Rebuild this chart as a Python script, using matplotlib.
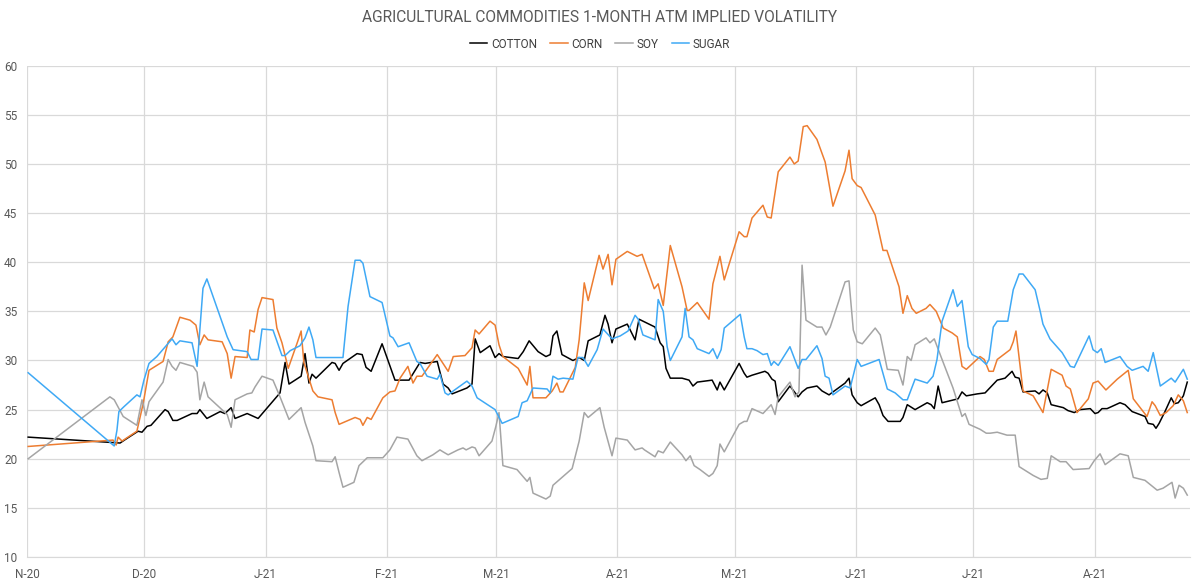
import numpy as np
import pandas as pd
import matplotlib
matplotlib.use("Agg")
import matplotlib.pyplot as plt
import matplotlib.dates as mdates
from matplotlib.ticker import FuncFormatter

plt.rcParams['font.family'] = ['Liberation Sans Narrow', 'Roboto', 'DejaVu Sans']

START = pd.Timestamp('2020-11-01')

# x values: days since 2020-11-01
cotton_days = [0.3, 23.8, 25.3, 28.4, 29.4, 30.7, 31.7, 35.3, 36.1, 37.3, 38.4, 42.2, 43.5, 44.2, 46.0, 49.4, 50.6,
               52.2, 53.2, 56.3, 59.1, 64.7, 66.0, 67.0, 70.1, 71.1, 72.1, 72.9, 73.9, 78.0, 78.8, 79.8, 80.8, 84.4,
               85.7, 86.7, 88.0, 90.8, 94.1, 97.7, 100.5, 101.8, 104.9, 106.4, 107.7, 108.7, 112.5, 113.8, 114.6,
               115.9, 118.4, 119.7, 120.7, 121.7, 125.6, 126.9, 128.4, 130.7, 132.7, 133.8, 134.5, 135.5, 136.8,
               139.6, 141.2, 142.5, 143.5, 146.5, 147.8, 148.6, 149.6, 150.6, 153.5, 155.5, 156.5, 160.6, 161.9,
               162.7, 163.4, 164.5, 167.5, 169.3, 170.3, 171.4, 175.2, 176.5, 177.2, 178.3, 182.1, 183.4, 184.1,
               185.4, 188.7, 189.5, 190.5, 191.3, 192.1, 195.1, 197.2, 198.2, 199.5, 202.0, 203.3, 205.1, 206.1,
               209.2, 210.2, 211.0, 212.3, 213.3, 216.9, 217.9, 218.9, 220.2, 223.3, 224.0, 225.1, 227.1, 230.2,
               231.2, 232.0, 233.0, 234.0, 238.1, 239.1, 240.2, 243.0, 245.0, 248.1, 250.1, 251.9, 252.7, 253.7,
               254.7, 257.8, 258.8, 259.8, 260.9, 261.9, 265.0, 266.2, 267.8, 269.3, 271.9, 273.1, 273.9, 274.9,
               276.2, 279.5, 280.8, 282.6, 285.9, 286.7, 288.0, 288.7, 289.5, 291.0, 292.6, 293.4, 294.4, 295.7,
               296.7]
cotton_vals = [22.2, 21.6, 22.0, 22.8, 22.7, 23.3, 23.4, 25.0, 24.8, 23.9, 23.9, 24.6, 24.6, 25.0, 24.1, 24.8, 24.6,
               25.2, 24.1, 24.6, 24.1, 26.7, 29.8, 27.6, 28.4, 30.7, 27.7, 28.6, 28.2, 29.8, 29.7, 29.0, 29.7, 30.7,
               30.6, 29.3, 28.9, 31.7, 28.0, 28.0, 29.8, 29.7, 29.9, 27.6, 27.2, 26.6, 27.2, 27.6, 32.2,
               30.8, 31.5, 30.3, 30.7, 30.4, 30.2, 30.9, 32.0, 30.9, 30.4, 30.6, 32.5, 33.0, 30.6,
               30.0, 30.3, 30.0, 32.0, 32.6, 34.6, 33.7, 31.8, 33.2, 33.7, 32.1, 34.2, 33.4, 31.8,
               31.4, 29.2, 28.2, 28.2, 28.0, 27.4, 27.8, 28.0, 27.0, 27.8, 27.0, 29.7, 28.7, 28.3,
               28.5, 28.9, 28.7, 28.1, 27.9, 25.8, 27.4, 26.3, 26.8, 27.2, 27.4, 26.9, 26.5, 26.8,
               27.7, 28.2, 26.5, 25.7, 25.4, 26.2, 25.5, 24.4, 23.8, 23.8, 24.2, 25.5, 25.0, 25.7,
               25.5, 25.1, 27.4, 25.7, 26.1, 26.8, 26.4, 26.6, 26.7, 28.0, 28.2, 28.9, 28.3, 28.2,
               26.8, 26.9, 26.6, 27.0, 26.7, 25.5, 25.2, 24.9, 24.7, 25.0, 25.1, 24.6, 24.7, 25.1,
               25.1, 25.7, 25.5, 24.8, 24.3, 23.6, 23.5, 23.1, 23.6, 24.8, 26.2, 25.6, 25.7, 26.4,
               27.8]

corn_days = [0.3, 22.0, 22.8, 23.3, 24.3, 28.1, 29.7, 31.2, 34.8, 36.1, 37.3, 39.1, 41.7, 43.2, 44.2, 45.3, 46.3,
             49.9, 51.2, 52.2, 53.2, 56.3, 57.0, 58.1, 59.1, 60.1, 62.9, 63.9, 65.2, 66.8, 69.1, 70.1, 70.8, 71.9,
             73.1, 74.4, 78.0, 78.8, 79.8, 83.9, 85.2, 85.9, 87.0, 88.0, 91.0, 92.8, 94.1, 95.4, 97.4, 98.7, 99.7,
             101.0, 104.9, 107.7, 109.0, 112.0, 113.8, 114.6, 115.6, 118.4, 119.7, 120.7, 121.7, 125.6, 127.9,
             128.6, 129.4, 132.7, 134.3, 135.5, 136.3, 137.1, 140.2, 141.2, 142.5, 143.5, 146.3, 147.3, 148.6,
             149.6, 150.6, 153.5, 156.0, 157.3, 160.4, 161.4, 162.7, 164.5, 167.5, 168.8, 169.3, 171.4, 174.4,
             175.4, 177.2, 178.3, 182.1, 183.4, 184.1, 185.4, 188.2, 189.3, 190.3, 192.1, 195.1, 196.2, 197.2,
             198.5, 199.5, 202.0, 204.1, 206.1, 209.2, 210.2, 211.0, 212.3, 213.3, 216.9, 218.9, 219.9, 223.0,
             224.0, 225.1, 226.3, 227.4, 229.9, 230.9, 232.5, 234.3, 236.6, 237.9, 239.1, 240.2, 243.7, 244.8,
             246.0, 247.1, 248.1, 251.4, 252.2, 252.9, 254.7, 257.3, 259.8, 261.9, 264.7, 265.7, 266.8, 268.5,
             271.4, 272.6, 273.9, 275.9, 278.8, 281.6, 282.9, 286.4, 287.7, 288.5, 289.8, 291.3, 293.1, 294.4,
             295.7, 296.7]
corn_vals = [21.25, 21.9, 21.4, 22.2, 21.8, 22.8, 25.6, 29.0, 29.9, 31.9, 32.4, 34.4, 34.1, 33.6, 31.6, 32.6, 32.1,
             31.9, 30.7, 28.2, 30.4, 30.3, 33.1, 32.9, 35.2, 36.4, 36.2, 33.3, 31.8, 29.2, 31.8, 33.0, 29.8, 28.4,
             26.9, 26.3, 26.0, 24.7, 23.5, 24.2, 24.0, 23.4, 24.2, 24.0, 26.2, 26.8, 26.9, 28.2, 29.4, 27.7, 28.4,
             28.4, 30.6, 28.9, 30.4, 30.5, 31.3, 33.1, 32.7, 34.0, 33.6, 31.6, 30.4, 29.2, 27.5,
             29.4, 26.2, 26.2, 26.9, 27.7, 26.8, 26.8, 29.3, 32.1, 37.9, 36.1, 40.7, 39.3, 40.8,
             37.7, 40.3, 41.1, 40.6, 40.8, 37.3, 37.8, 35.6, 41.7, 37.5, 35.1, 35.1, 35.9, 34.2,
             37.8, 40.6, 38.2, 43.1, 42.6, 42.6, 44.5, 45.8, 44.6, 44.5, 49.2, 50.7, 50.0, 50.3,
             53.8, 53.9, 52.5, 50.2, 45.7, 49.3, 51.4, 48.5, 47.8, 47.6, 44.8, 41.2, 41.2, 37.5,
             34.8, 36.6, 35.3, 34.8, 35.3, 35.7, 35.0, 33.3, 32.8, 32.4, 29.4, 29.1, 30.4, 30.1,
             28.9, 28.9, 30.1, 31.1, 31.9, 33.0, 26.9, 26.4, 24.7, 29.1, 28.5, 27.4, 27.1, 24.7,
             26.1, 27.7, 27.9, 27.0, 28.1, 29.0, 26.1, 24.3, 25.8, 25.4, 24.4, 24.7, 25.4, 26.5,
             25.9, 24.7]

soy_days = [0.3, 21.2, 22.3, 24.6, 28.1, 29.4, 30.4, 31.2, 34.8, 36.1, 37.1, 38.1, 39.1, 42.5, 43.5, 44.2, 45.3,
            46.3, 51.2, 52.2, 53.2, 56.3, 57.5, 58.3, 60.1, 62.9, 64.7, 67.0, 70.1, 71.1, 73.1, 73.9, 78.0, 78.8,
            79.8, 80.8, 83.6, 84.9, 87.0, 91.0, 92.8, 94.6, 97.4, 99.7, 101.0, 103.8, 105.6, 106.4, 107.7, 110.2,
            111.5, 112.3, 113.8, 114.6, 115.6, 118.9, 119.9, 120.7, 121.7, 125.3, 127.9, 128.6, 129.4, 132.7,
            133.8, 134.5, 139.4, 141.2, 142.5, 143.5, 146.5, 147.6, 149.6, 150.6, 153.5, 155.5, 157.3, 157.9,
            160.6, 161.4, 162.7, 164.5, 167.5, 168.5, 169.6, 170.6, 172.1, 174.4, 175.4, 176.5, 177.2, 178.3,
            182.1, 183.4, 184.1, 185.4, 188.2, 190.3, 191.3, 192.1, 195.1, 196.4, 197.4, 198.2, 199.2, 202.0,
            203.3, 204.3, 205.4, 209.2, 210.2, 211.3, 212.3, 213.6, 216.9, 218.2, 220.0, 222.8, 224.0, 225.1,
            226.1, 227.1, 229.9, 230.9, 232.0, 234.0, 236.8, 239.1, 239.9, 240.9, 243.7, 245.3, 246.3, 248.1,
            250.6, 252.7, 253.7, 257.3, 259.3, 260.9, 261.9, 264.2, 265.7, 267.5, 271.6, 272.9, 274.4, 275.7,
            279.5, 281.6, 282.9, 285.9, 289.0, 290.5, 292.8, 293.6, 294.6, 295.7, 296.7]
soy_vals = [20.0, 26.3, 26.0, 24.3, 23.4, 26.0, 24.4, 25.8, 27.8, 30.1, 29.4, 29.0, 29.8, 29.4, 28.8, 26.0, 27.8,
            26.3, 24.5, 23.2, 26.0, 26.6, 26.7, 27.3, 28.4, 28.0, 26.3, 24.0, 25.2, 23.7, 21.3, 19.8, 19.7, 20.2,
            18.6, 17.1, 17.6, 19.3, 20.1, 20.1, 20.9, 22.2, 22.0, 20.3, 19.8, 20.4, 20.9, 20.7, 20.4, 20.9,
            21.1, 20.9, 21.2, 21.1, 20.3, 21.8, 23.3, 24.7, 19.3, 18.9, 17.7, 18.1, 16.5, 15.9,
            16.2, 17.3, 19.0, 21.8, 24.7, 24.2, 25.2, 23.2, 20.3, 22.1, 21.9, 20.9, 21.1, 20.9,
            20.2, 20.8, 20.6, 21.7, 20.4, 19.8, 20.3, 19.3, 18.9, 18.2, 18.5, 19.3, 21.5, 20.7,
            23.5, 23.8, 23.8, 25.1, 24.6, 25.5, 24.5, 26.3, 27.8, 26.3, 26.8, 39.7, 34.1, 33.4,
            33.4, 32.6, 33.4, 38.0, 38.1, 33.1, 31.9, 31.7, 33.3, 32.6, 29.1, 29.0, 27.5, 30.4,
            30.0, 31.6, 32.3, 31.8, 32.2, 30.1, 27.2, 24.3, 24.6, 23.5, 23.0, 22.6, 22.6, 22.7,
            22.4, 22.4, 19.2, 18.3, 17.9, 18.0, 20.3, 19.7, 19.7, 18.9, 19.0, 19.8, 20.5, 19.4,
            20.5, 20.3, 18.1, 17.8, 16.8, 17.0, 17.6, 16.0, 17.3, 17.0, 16.3]

sugar_days = [0.3, 22.3, 23.0, 23.5, 24.8, 28.1, 28.9, 29.9, 31.2, 33.2, 37.1, 38.1, 39.1, 42.2, 43.5, 45.0, 46.0,
              51.2, 52.7, 56.3, 57.3, 59.1, 60.1, 62.9, 65.2, 66.0, 67.3, 69.8, 70.3, 71.1, 72.1, 73.1, 73.9, 80.8,
              82.1, 83.9, 85.2, 85.9, 87.7, 90.8, 92.8, 93.6, 94.9, 97.7, 99.7, 100.5, 102.3, 104.9, 105.6, 106.9,
              107.7, 109.0, 112.5, 113.8, 115.1, 119.7, 121.5, 125.6, 126.6, 127.9, 129.4, 133.0, 133.8, 134.5,
              135.8, 137.1, 139.6, 140.9, 142.2, 143.5, 145.8, 147.3, 149.6, 151.7, 153.7, 155.5, 156.3, 157.5,
              160.6, 161.4, 162.7, 163.7, 164.5, 167.5, 168.3, 169.3, 170.3, 171.4, 174.4, 175.4, 176.5, 177.5,
              178.3, 182.4, 183.4, 184.1, 185.4, 186.7, 188.2, 189.3, 190.3, 191.0, 192.1, 195.1, 197.2, 198.2,
              199.2, 202.0, 203.3, 204.1, 205.1, 206.1, 209.2, 210.5, 212.3, 213.3, 217.9, 220.0, 222.0, 224.0,
              225.1, 227.1, 230.2, 231.7, 232.7, 234.0, 236.8, 237.9, 239.1, 240.7, 241.7, 243.7, 245.3, 246.0,
              247.1, 248.1, 250.8, 252.2, 253.7, 254.7, 257.8, 259.1, 259.8, 261.6, 264.7, 266.8, 267.8, 271.6,
              272.6, 273.7, 274.7, 275.7, 279.5, 281.3, 282.6, 285.4, 286.7, 288.0, 289.8, 292.6, 293.6, 295.7,
              296.7]
sugar_vals = [28.75, 21.3, 22.9, 24.8, 25.3, 26.5, 26.3, 28.0, 29.7, 30.4, 32.2, 31.6, 32.0, 31.8, 29.4, 37.35, 38.3,
              32.4, 31.1, 30.9, 30.1, 30.1, 33.2, 33.1, 30.5, 30.5, 31.0, 31.5, 31.8, 32.3, 33.4, 32.1, 30.3, 30.3,
              35.5, 40.2, 40.2, 39.9, 36.5, 35.9, 32.5, 32.3, 31.4, 31.8, 29.9, 29.7, 28.4, 28.1, 28.6, 26.7,
              26.5, 26.9, 27.9, 27.4, 26.2, 25.0, 23.6, 24.3, 25.7, 25.9, 27.2, 27.1, 26.7, 28.4,
              28.1, 28.2, 28.1, 30.3, 30.3, 29.4, 31.1, 33.2, 32.2, 32.5, 33.0, 34.6, 34.2, 32.6,
              32.1, 36.2, 35.0, 31.4, 30.0, 32.4, 35.3, 32.4, 32.1, 31.2, 30.7, 31.2, 30.2, 31.1,
              33.3, 34.7, 32.4, 31.2, 31.2, 31.0, 30.6, 30.7, 29.5, 29.9, 29.5, 31.4, 29.2, 30.1,
              30.1, 31.5, 30.2, 28.4, 28.2, 26.5, 27.4, 27.2, 30.1, 29.4, 30.1, 27.1, 26.7, 26.0,
              26.0, 28.1, 27.7, 28.4, 30.1, 34.0, 37.2, 35.5, 36.1, 31.4, 30.6, 30.2, 29.6, 30.1,
              33.4, 34.0, 34.0, 37.2, 38.8, 38.8, 37.2, 35.0, 33.7, 32.2, 30.8, 29.4, 29.3, 32.5,
              31.1, 30.8, 31.2, 29.8, 30.4, 29.4, 29.0, 29.4, 28.9, 30.8, 27.4, 28.2, 27.8, 29.1,
              28.1]

series_names = ['COTTON', 'CORN', 'SOY', 'SUGAR']
series_colors = ['#000000', '#ED7D31', '#A5A5A5', '#3FA9F5']
series_data = [(cotton_days, cotton_vals), (corn_days, corn_vals), (soy_days, soy_vals), (sugar_days, sugar_vals)]

fig = plt.figure(figsize=(12, 5.83), dpi=100)
ax = fig.add_axes([27 / 1200, 1 - 557 / 583, (1190 - 27) / 1200, (557 - 65.7) / 583])

for name, color, (d, v) in zip(series_names, series_colors, series_data):
    dates = START + pd.to_timedelta(np.array(d), unit='D')
    ax.plot(dates, v, color=color, lw=1.1, label=name, solid_joinstyle='round')

ax.set_ylim(10, 60)
ax.set_yticks(np.arange(10, 61, 5))
ax.set_xlim(START, START + pd.Timedelta(days=297.4))
ax.xaxis.set_major_locator(mdates.MonthLocator())
ax.xaxis.set_major_formatter(FuncFormatter(
    lambda v, p: mdates.num2date(v).strftime('%b')[0] + '-' + mdates.num2date(v).strftime('%y')))

ax.grid(True, color='#D9D9D9', lw=0.9)
ax.set_axisbelow(True)
for s in ['top', 'right', 'left']:
    ax.spines[s].set_visible(False)
ax.spines['bottom'].set_color('#D9D9D9')
ax.tick_params(axis='both', length=0, colors='#595959', labelsize=8.5)
ax.tick_params(axis='x', pad=8)
ax.tick_params(axis='y', pad=7)

fig.text(0.5, 1 - 18 / 583, 'AGRICULTURAL COMMODITIES 1-MONTH ATM IMPLIED VOLATILITY',
         ha='center', va='center', fontsize=11.2, color='#595959')
fig.legend(loc='center', bbox_to_anchor=(0.5, 1 - 44 / 583), ncol=4, frameon=False,
           fontsize=8.5, labelcolor='#404040', handlelength=1.5, handletextpad=0.3, columnspacing=1.1)

fig.savefig('out.png', dpi=100)
